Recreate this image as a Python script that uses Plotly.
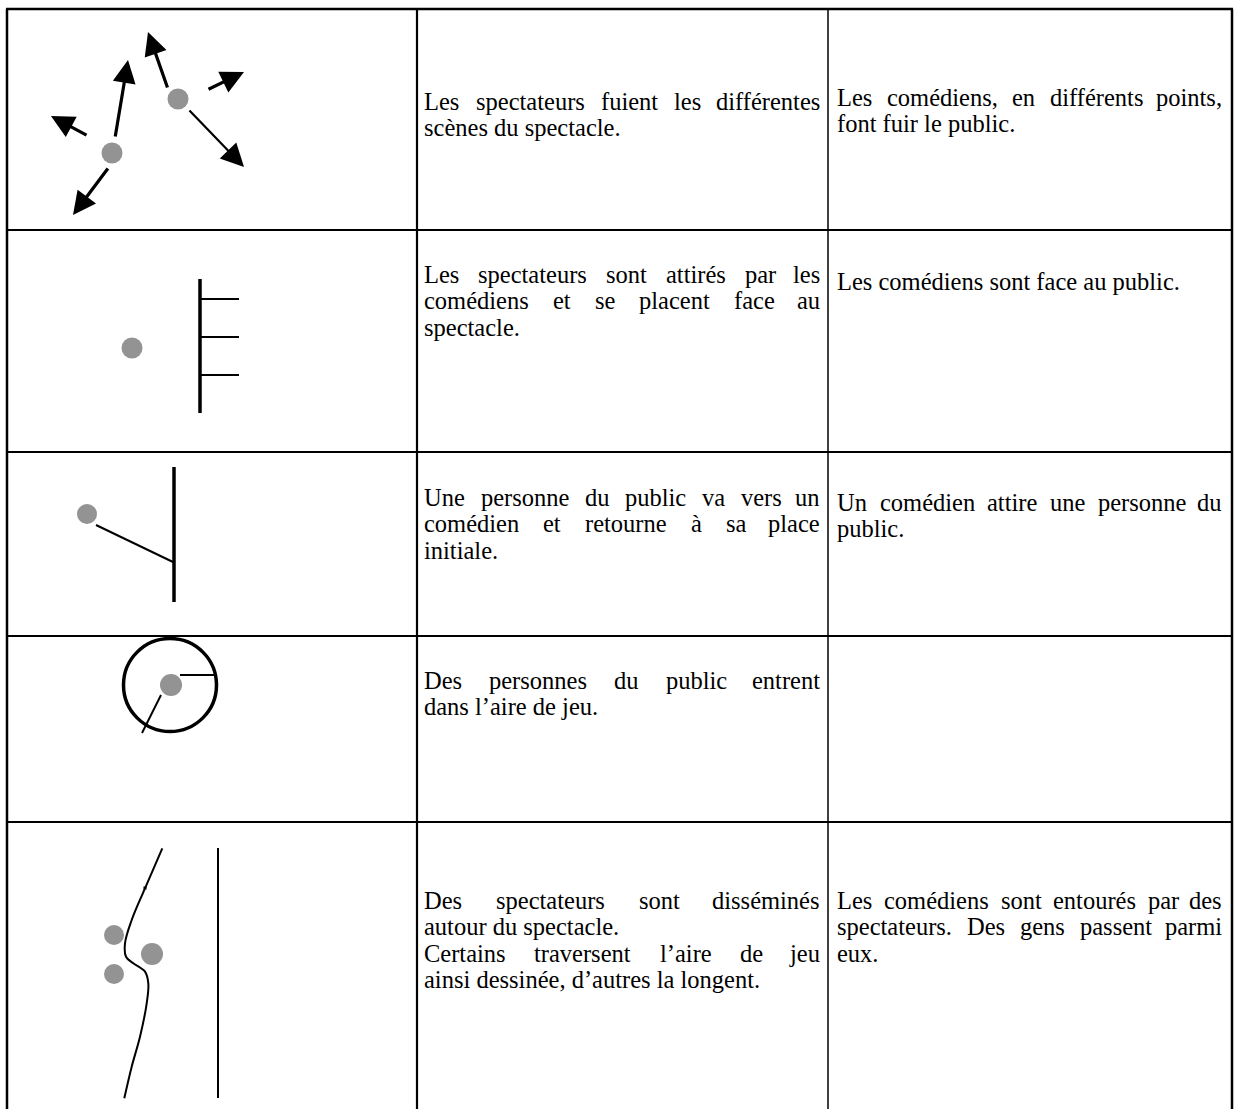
import plotly.graph_objects as go

# ---------------- page / table geometry (pixel space, y downward) ----------------
W, H = 1234, 1109
col_x = [7, 417, 828, 1232]
row_y = [9, 230, 452, 636, 822]
table_bottom = 1109

# ---------------- text content ----------------
FONT = "Liberation Serif"
FS = 24.5
col2_left, col2_right = 423, 821
col3_left, col3_right = 836, 1223

# each cell: list of (text, justified)
col2_text = [
    [("Les spectateurs fuient les différentes", True), ("scènes du spectacle.", False)],
    [("Les spectateurs sont attirés par les", True), ("comédiens et se placent face au", True), ("spectacle.", False)],
    [("Une personne du public va vers un", True), ("comédien et retourne à sa place", True), ("initiale.", False)],
    [("Des personnes du public entrent", True), ("dans l’aire de jeu.", False)],
    [("Des spectateurs sont disséminés", True), ("autour du spectacle.", False),
     ("Certains traversent l’aire de jeu", True), ("ainsi dessinée, d’autres la longent.", False)],
]
col3_text = [
    [("Les comédiens, en différents points,", True), ("font fuir le public.", False)],
    [("Les comédiens sont face au public.", False)],
    [("Un comédien attire une personne du", True), ("public.", False)],
    [],
    [("Les comédiens sont entourés par des", True), ("spectateurs. Des gens passent parmi", True), ("eux.", False)],
]
# first-line centre (x-height centre) per row for each column, and line spacing
col2_first = [104, 277, 500, 683, 903]
col3_first = [100, 284, 505, 0, 903]
line_gap = 26.5

# ---------------- diagram data ----------------
dot_color = "#939393"
# row 1 : two spectators, arrows (tail x, tail y, tip x, tip y, width)
r1_dots_x = [178, 112]
r1_dots_y = [99, 153]
r1_arrows = [
    (115, 138, 128, 60, 3.2),
    (109, 167, 73, 215, 3.2),
    (88, 136, 51, 116, 3.2),
    (168, 89, 148, 32, 3.2),
    (207, 90, 244, 72, 3.2),
    (188, 109, 244, 167, 2.2),
]
# row 2 : spectator facing a stage with three actors
r2_dot = (132, 348)
r2_stage_x, r2_stage_y = [200, 200], [279, 413]
r2_ticks_y = [299, 337, 375]
r2_ticks_x = [200, 239]
# row 3 : spectator going to actor
r3_dot = (87, 514)
r3_path_x, r3_path_y = [96, 173], [525, 562]
r3_stage_x, r3_stage_y = [174, 174], [467, 602]
# row 4 : play area circle
r4_circle = (170, 685, 46.5)
r4_dot = (171, 685)
r4_line1_x, r4_line1_y = [180, 217], [675, 675]
r4_line2_x, r4_line2_y = [161, 142], [695, 733]
# row 5 : scattered spectators around a winding path
r5_curve_x = [162.3, 145, 131.7, 125, 126, 133.3, 145, 148.3, 146.7, 140, 131.7, 124.3]
r5_curve_y = [848.3, 888.3, 920, 943.3, 956.7, 963.3, 971.7, 983.3, 1003.3, 1036.7, 1066.7, 1098.3]
r5_mark = (145, 888)
r5_line_x, r5_line_y = [218, 218], [848, 1098]
r5_dots_x = [114, 152, 114]
r5_dots_y = [935, 954, 974]
r5_dots_size = [20, 22, 20]

# ---------------- text width estimate (Times metrics) ----------------
TW = {' ': 250, 'a': 444, 'b': 500, 'c': 444, 'd': 500, 'e': 444, 'f': 333, 'g': 500, 'h': 500,
      'i': 278, 'j': 278, 'k': 500, 'l': 278, 'm': 778, 'n': 500, 'o': 500, 'p': 500, 'q': 500,
      'r': 333, 's': 389, 't': 278, 'u': 500, 'v': 500, 'w': 722, 'x': 500, 'y': 500, 'z': 444,
      'é': 444, 'è': 444, 'à': 444, ',': 250, '.': 250, '’': 333,
      'C': 667, 'D': 722, 'L': 611, 'U': 722}


def width(s):
    return sum(TW.get(c, 500) for c in s) * FS / 1000.0


fig = go.Figure()
annotations = []
shapes = []


def add_text(x, y, s, anchor="left"):
    annotations.append(dict(x=x, y=y - 3, xref="x", yref="y", text=s, showarrow=False,
                            xanchor=anchor, yanchor="middle", align=anchor, borderpad=0,
                            font=dict(family=FONT, size=FS, color="black")))


def add_cell(lines, left, right, y0):
    for k, (s, just) in enumerate(lines):
        y = y0 + k * line_gap
        words = s.split(" ")
        if just and len(words) > 1:
            ws = [width(w) for w in words]
            gap = (right - left - sum(ws)) / (len(words) - 1)
            xpos = left
            for i, w in enumerate(words):
                if i == len(words) - 1:
                    add_text(right, y, w, "right")
                else:
                    add_text(xpos, y, w)
                xpos += ws[i] + gap
        else:
            add_text(left, y, s)


for r in range(5):
    add_cell(col2_text[r], col2_left, col2_right, col2_first[r])
    if col3_text[r]:
        add_cell(col3_text[r], col3_left, col3_right, col3_first[r])

# ---------------- table grid ----------------
def seg(x0, y0, x1, y1, w, color="black"):
    shapes.append(dict(type="line", xref="x", yref="y", x0=x0, y0=y0, x1=x1, y1=y1,
                       line=dict(color=color, width=w)))


seg(col_x[0] - 1, row_y[0], col_x[-1] + 1, row_y[0], 2.5)
for y in row_y[1:]:
    seg(col_x[0], y, col_x[-1], y, 2.2)
seg(col_x[0], row_y[0], col_x[0], table_bottom, 2.5)
seg(col_x[1], row_y[0], col_x[1], table_bottom, 2.2)
seg(col_x[2], row_y[0], col_x[2], table_bottom, 1.5)
seg(col_x[3], row_y[0], col_x[3], table_bottom, 2.5)

# ---------------- diagrams ----------------
def line_trace(xs, ys, w, shape="linear"):
    fig.add_trace(go.Scatter(x=xs, y=ys, mode="lines", line=dict(color="black", width=w, shape=shape),
                             hoverinfo="skip", showlegend=False))


def dots(xs, ys, size, color=dot_color, symbol="circle"):
    fig.add_trace(go.Scatter(x=xs, y=ys, mode="markers", opacity=1,
                             marker=dict(color=color, size=size, opacity=1, symbol=symbol, line=dict(width=0)),
                             hoverinfo="skip", showlegend=False))


# row 1 arrows
for (tx, ty, hx, hy, w) in r1_arrows:
    annotations.append(dict(x=hx, y=hy, ax=tx, ay=ty, xref="x", yref="y", axref="x", ayref="y",
                            text="", showarrow=True, arrowhead=2, arrowwidth=w,
                            arrowsize=4.6 / w, arrowcolor="black", standoff=0, startstandoff=0))
dots(r1_dots_x, r1_dots_y, 21)

# row 2
line_trace(r2_stage_x, r2_stage_y, 3.5)
for ty in r2_ticks_y:
    line_trace(r2_ticks_x, [ty, ty], 2)
dots([r2_dot[0]], [r2_dot[1]], 21)

# row 3
line_trace(r3_path_x, r3_path_y, 2)
line_trace(r3_stage_x, r3_stage_y, 3.5)
dots([r3_dot[0]], [r3_dot[1]], 20)

# row 4
cx, cy, cr = r4_circle
shapes.append(dict(type="circle", xref="x", yref="y", x0=cx - cr, x1=cx + cr, y0=cy - cr, y1=cy + cr,
                   line=dict(color="black", width=3.5)))
line_trace(r4_line1_x, r4_line1_y, 2)
line_trace(r4_line2_x, r4_line2_y, 2)
dots([r4_dot[0]], [r4_dot[1]], 22)

# row 5
line_trace(r5_curve_x, r5_curve_y, 2, "spline")
line_trace(r5_line_x, r5_line_y, 2)
dots(r5_dots_x, r5_dots_y, r5_dots_size)
dots([r5_mark[0]], [r5_mark[1]], 3, color="black", symbol="square")

fig.update_layout(
    width=W, height=H, autosize=False,
    margin=dict(l=0, r=0, t=0, b=0, pad=0),
    paper_bgcolor="white", plot_bgcolor="white",
    xaxis=dict(range=[0, W], visible=False, fixedrange=True),
    yaxis=dict(range=[H, 0], visible=False, fixedrange=True),
    annotations=annotations, shapes=shapes, showlegend=False,
)

fig.write_html("out.html", config={"displayModeBar": False},
               post_script="document.body.style.margin='0px';document.body.style.overflow='hidden';")
